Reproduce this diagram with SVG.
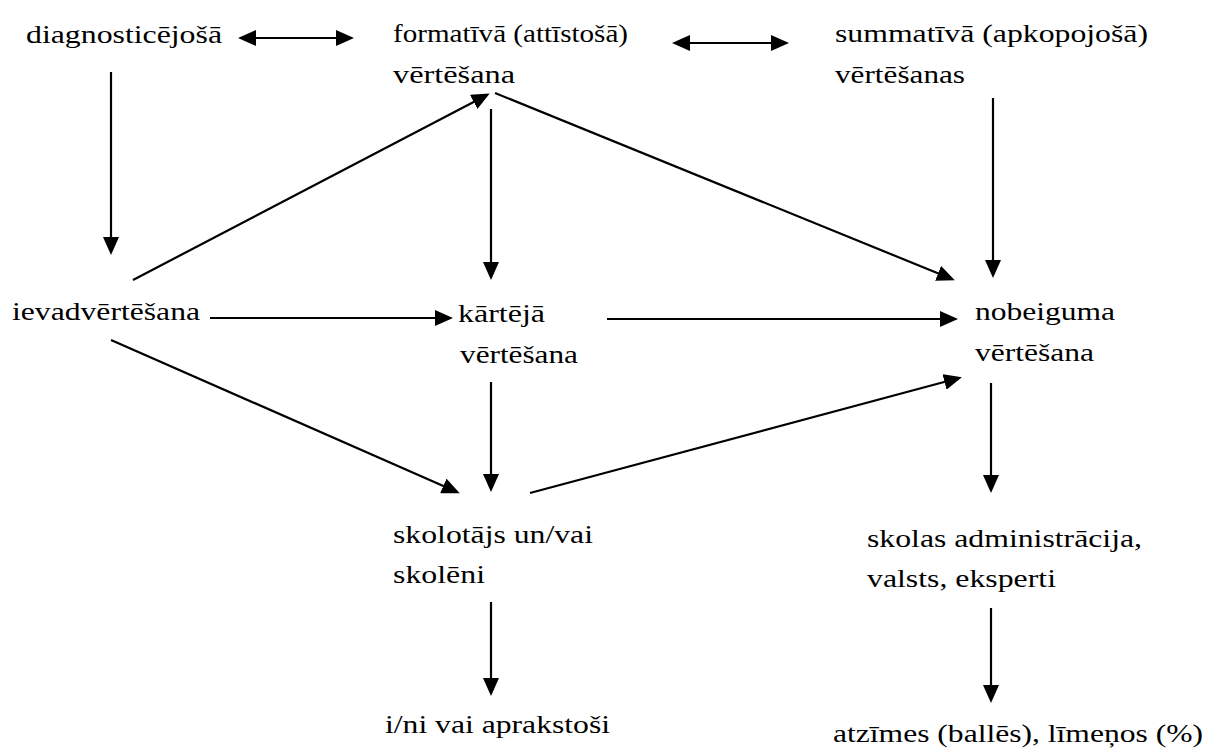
<svg xmlns="http://www.w3.org/2000/svg" width="1208" height="749" viewBox="0 0 1208 749">
<style>
text{font-family:"Liberation Serif",serif;font-size:26px;fill:#000}
.c line{stroke:#000;stroke-width:2.2;fill:none}
.a{marker-end:url(#ah)}
.d{marker-end:url(#ah);marker-start:url(#ah)}
</style>
<defs>
<marker id="ah" markerUnits="userSpaceOnUse" markerWidth="18" markerHeight="16" viewBox="0 0 18 16" refX="15" refY="8" orient="auto-start-reverse">
<path d="M0,0 L18,8 L0,16 z" fill="#000"/>
</marker>
</defs>
<rect width="1208" height="749" fill="#fff"/>
<g id="n-diag"><text x="26" y="43" textLength="196" lengthAdjust="spacingAndGlyphs">diagnosticējošā</text></g>
<g id="n-form"><text x="393" y="42" textLength="235" lengthAdjust="spacingAndGlyphs">formatīvā (attīstošā)</text><text x="393" y="83" textLength="122" lengthAdjust="spacingAndGlyphs">vērtēšana</text></g>
<g id="n-summ"><text x="835" y="42" textLength="313" lengthAdjust="spacingAndGlyphs">summatīvā (apkopojošā)</text><text x="835" y="83" textLength="130" lengthAdjust="spacingAndGlyphs">vērtēšanas</text></g>
<g id="n-ievad"><text x="12" y="320" textLength="188" lengthAdjust="spacingAndGlyphs">ievadvērtēšana</text></g>
<g id="n-kart"><text x="458" y="322" textLength="87" lengthAdjust="spacingAndGlyphs">kārtējā</text><text x="460" y="363" textLength="118" lengthAdjust="spacingAndGlyphs">vērtēšana</text></g>
<g id="n-nob"><text x="975" y="320" textLength="140" lengthAdjust="spacingAndGlyphs">nobeiguma</text><text x="975" y="361" textLength="119" lengthAdjust="spacingAndGlyphs">vērtēšana</text></g>
<g id="n-skol"><text x="393" y="543" textLength="200" lengthAdjust="spacingAndGlyphs">skolotājs un/vai</text><text x="393" y="583" textLength="92" lengthAdjust="spacingAndGlyphs">skolēni</text></g>
<g id="n-admin"><text x="867" y="547" textLength="275" lengthAdjust="spacingAndGlyphs">skolas administrācija,</text><text x="867" y="587" textLength="189" lengthAdjust="spacingAndGlyphs">valsts, eksperti</text></g>
<g id="n-ini"><text x="385" y="733" textLength="225" lengthAdjust="spacingAndGlyphs">i/ni vai aprakstoši</text></g>
<g id="n-atz"><text x="833" y="742" textLength="370" lengthAdjust="spacingAndGlyphs">atzīmes (ballēs), līmeņos (%)</text></g>
<g class="c" id="connectors">
<line class="d" x1="241" y1="38" x2="351" y2="38"/>
<line class="d" x1="675" y1="43" x2="786" y2="43"/>
<line class="a" x1="111" y1="72" x2="111" y2="252"/>
<line class="a" x1="133" y1="280" x2="487" y2="95"/>
<line class="a" x1="491" y1="109" x2="491" y2="277"/>
<line class="a" x1="495" y1="93" x2="952" y2="279"/>
<line class="a" x1="993" y1="98" x2="993" y2="275"/>
<line class="a" x1="210" y1="318" x2="450" y2="318"/>
<line class="a" x1="607" y1="319" x2="955" y2="319"/>
<line class="a" x1="111" y1="340" x2="457" y2="492"/>
<line class="a" x1="491" y1="382" x2="491" y2="489"/>
<line class="a" x1="530" y1="493" x2="959" y2="378"/>
<line class="a" x1="991" y1="383" x2="991" y2="490"/>
<line class="a" x1="491" y1="602" x2="491" y2="693"/>
<line class="a" x1="991" y1="608" x2="991" y2="700"/>
</g>
</svg>
